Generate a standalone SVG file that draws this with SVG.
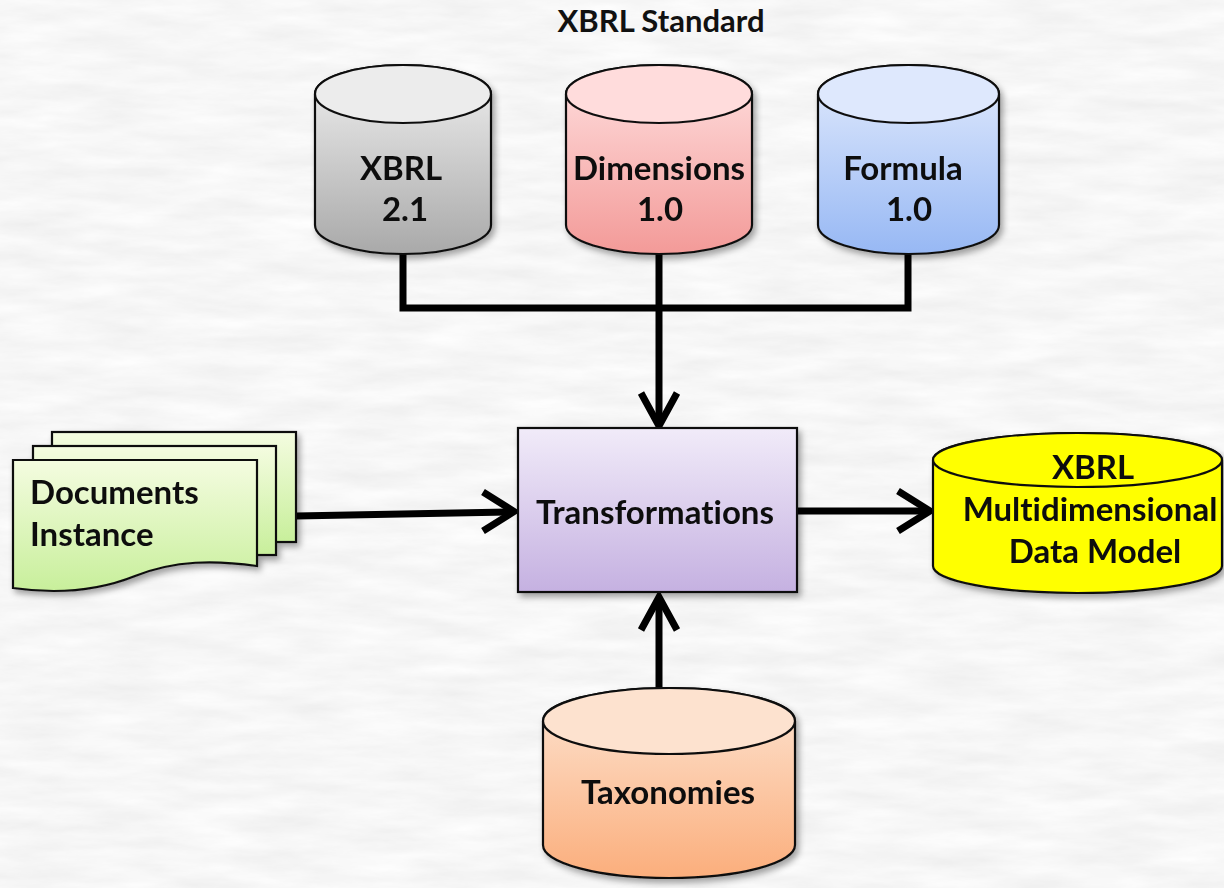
<svg xmlns="http://www.w3.org/2000/svg" width="1224" height="888" viewBox="0 0 1224 888">
  <defs>
    <filter id="paper" x="0" y="0" width="100%" height="100%">
      <feTurbulence type="fractalNoise" baseFrequency="0.012 0.06" numOctaves="5" seed="7"/>
      <feColorMatrix type="matrix" values="0.16 0 0 0 0.845  0.16 0 0 0 0.845  0.16 0 0 0 0.845  0 0 0 0 1"/>
    </filter>
    <filter id="shadow" x="-10%" y="-10%" width="125%" height="130%">
      <feDropShadow dx="3" dy="4" stdDeviation="3" flood-color="#000" flood-opacity="0.35"/>
    </filter>
    <linearGradient id="gGray" x1="0" y1="0" x2="0" y2="1">
      <stop offset="0" stop-color="#f0f0f0"/>
      <stop offset="1" stop-color="#a9a9a9"/>
    </linearGradient>
    <linearGradient id="gRed" x1="0" y1="0" x2="0" y2="1">
      <stop offset="0" stop-color="#ffe0e0"/>
      <stop offset="1" stop-color="#f39a98"/>
    </linearGradient>
    <linearGradient id="gBlue" x1="0" y1="0" x2="0" y2="1">
      <stop offset="0" stop-color="#e2ebfd"/>
      <stop offset="1" stop-color="#97b8f4"/>
    </linearGradient>
    <linearGradient id="gPurple" x1="0" y1="0" x2="0" y2="1">
      <stop offset="0" stop-color="#f1ebf9"/>
      <stop offset="1" stop-color="#c5b1e1"/>
    </linearGradient>
    <linearGradient id="gGreen" x1="0" y1="0" x2="0" y2="1">
      <stop offset="0" stop-color="#f4fce0"/>
      <stop offset="1" stop-color="#c8ef9b"/>
    </linearGradient>
    <linearGradient id="gOrange" x1="0" y1="0" x2="0" y2="1">
      <stop offset="0" stop-color="#fde4d2"/>
      <stop offset="1" stop-color="#fbae7c"/>
    </linearGradient>
  </defs>
  <style>
    .edge { stroke: #111; stroke-width: 2.2; }
    .label { font-family: Lato, "Open Sans", sans-serif; font-weight: bold; font-size: 33px; fill: #111; font-variant-ligatures: none; }
    .mid { text-anchor: middle; }
    .wire { fill: none; stroke: #000; stroke-width: 7; }
    .head { fill: none; stroke: #000; stroke-width: 7; stroke-linejoin: miter; stroke-miterlimit: 10; }
  </style>

  <!-- textured backdrop -->
  <rect width="1224" height="888" fill="#eeeeee"/>
  <rect width="1224" height="888" filter="url(#paper)"/>

  <text class="label mid" x="661" y="32" style="font-size:31px">XBRL Standard</text>

  <!-- connectors -->
  <g id="connectors">
    <path class="wire" d="M403,250 V308 M659,252 V308 M908,250 V308 M399.5,308 H911.5"/>
    <path class="wire" d="M659,308 V422"/>
    <path class="head" d="M641,393 L659,426 L677,393"/>
    <path class="wire" d="M296,516 L508,512"/>
    <path class="head" d="M483,492 L514,511.5 L483,531"/>
    <path class="wire" d="M797,511 L924,511"/>
    <path class="head" d="M898,491 L930,511 L898,531"/>
    <path class="wire" d="M659,690 V600"/>
    <path class="head" d="M641,630 L659,597 L677,630"/>
  </g>

  <!-- XBRL 2.1 -->
  <g id="xbrl21" filter="url(#shadow)">
    <path class="edge" fill="url(#gGray)" d="M315,94 V225 A88,29 0 0 0 491,225 V94 A88,29 0 0 0 315,94 Z"/>
    <ellipse class="edge" cx="403" cy="94" rx="88" ry="29" fill="#ececec"/>
    <text class="label mid" x="401" y="180">XBRL</text>
    <text class="label mid" x="405" y="221">2.1</text>
  </g>

  <!-- Dimensions 1.0 -->
  <g id="dimensions" filter="url(#shadow)">
    <path class="edge" fill="url(#gRed)" d="M566,94 V225 A93,29 0 0 0 752,225 V94 A93,29 0 0 0 566,94 Z"/>
    <ellipse class="edge" cx="659" cy="94" rx="93" ry="29" fill="#ffdcdc"/>
    <text class="label mid" x="659" y="180">Dimensions</text>
    <text class="label mid" x="660" y="221">1.0</text>
  </g>

  <!-- Formula 1.0 -->
  <g id="formula" filter="url(#shadow)">
    <path class="edge" fill="url(#gBlue)" d="M818,94 V225 A90.5,29 0 0 0 999,225 V94 A90.5,29 0 0 0 818,94 Z"/>
    <ellipse class="edge" cx="908.5" cy="94" rx="90.5" ry="29" fill="#dee8fd"/>
    <text class="label mid" x="903" y="180">Formula</text>
    <text class="label mid" x="909" y="221">1.0</text>
  </g>

  <!-- Documents Instance (stacked sheets) -->
  <g id="documents" filter="url(#shadow)">
    <rect class="edge" x="52" y="432" width="244" height="110" fill="url(#gGreen)"/>
    <rect class="edge" x="33" y="446" width="243" height="109" fill="url(#gGreen)"/>
    <path class="edge" fill="url(#gGreen)" d="M13,460 H257 V566 C215,560 175,560 135,576 C95,592 55,594 13,588 Z"/>
    <text class="label" x="30" y="504">Documents</text>
    <text class="label" x="30" y="546">Instance</text>
  </g>

  <!-- Transformations -->
  <g id="transformations" filter="url(#shadow)">
    <rect class="edge" x="518" y="428" width="279" height="164" fill="url(#gPurple)"/>
    <text class="label mid" x="655" y="524">Transformations</text>
  </g>

  <!-- XBRL Multidimensional Data Model -->
  <g id="datamodel" filter="url(#shadow)">
    <path class="edge" fill="#ffff00" d="M933,460 V566 A144.5,27 0 0 0 1222,566 V460 A144.5,27 0 0 0 933,460 Z"/>
    <ellipse class="edge" cx="1077.5" cy="460" rx="144.5" ry="27" fill="#ffff00"/>
    <text class="label mid" x="1093" y="479">XBRL</text>
    <text class="label mid" x="1090" y="521">Multidimensional</text>
    <text class="label mid" x="1095" y="563">Data Model</text>
  </g>

  <!-- Taxonomies -->
  <g id="taxonomies" filter="url(#shadow)">
    <path class="edge" fill="url(#gOrange)" d="M543,721 V845 A126,33 0 0 0 795,845 V721 A126,33 0 0 0 543,721 Z"/>
    <ellipse class="edge" cx="669" cy="721" rx="126" ry="33" fill="#fde2cf"/>
    <text class="label mid" x="668" y="804">Taxonomies</text>
  </g>
</svg>
